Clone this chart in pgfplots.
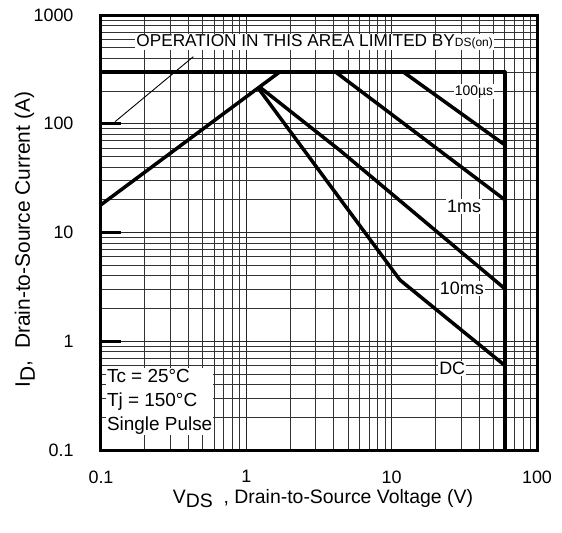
\documentclass[border=0pt]{standalone}
\usepackage{pgfplots}
\pgfplotsset{compat=1.18}
\usepackage{fontspec}
\setmainfont{Liberation Sans}
\pgfplotsset{soa/.style={black, line width=3.5bp, line join=round, mark=none}}
\begin{document}
\begin{tikzpicture}
\useasboundingbox (-101bp,-83bp) rectangle (461bp,450bp);
\begin{axis}[
  at={(0,0)}, anchor=south west,
  width=436bp, height=435bp, scale only axis,
  xmode=log, ymode=log,
  xmin=0.1, xmax=100, ymin=0.1, ymax=1000,
  xtick={0.1,1,10,100}, xticklabels={0.1,1,10,100},
  ytick={0.1,1,10,100,1000}, yticklabels={0.1,1,10,100,1000},
  minor xtick={0.2,0.3,0.4,0.5,0.6,0.7,0.8,0.9,2,3,4,5,6,7,8,9,20,30,40,50,60,70,80,90},
  minor ytick={0.2,0.3,0.4,0.5,0.6,0.7,0.8,0.9,2,3,4,5,6,7,8,9,20,30,40,50,60,70,80,90,200,300,400,500,600,700,800,900},
  grid=both,
  major grid style={black!85, line width=0.8bp},
  minor grid style={black!80, line width=0.7bp},
  axis line style={line width=3bp},
  tick align=inside,
  major tick length=20bp,
  minor tick length=0pt,
  xtick style={draw=none},
  ytick style={line width=3bp, black},
  ytick pos=left,
  tick label style={font=\fontsize{18}{20}\selectfont},
  /pgf/number format/assume math mode=true,
  yticklabel style={xshift=-24bp},
  xticklabel style={yshift=-17bp},
  xlabel={V\raisebox{-0.45ex}{DS}\ \ , Drain-to-Source Voltage (V)},
  ylabel={I\raisebox{-0.45ex}{D},\ \ Drain-to-Source Current (A)},
  xlabel style={font=\fontsize{19.5}{22}\selectfont, at={(axis description cs:0.5,-0.122)}, anchor=base, xshift=4bp},
  ylabel style={font=\fontsize{21}{24}\selectfont, at={(axis description cs:-0.163,0.484)}, anchor=base},
]
\addplot[soa] coordinates {(0.1,300) (60,300) (60,0.1)};
\addplot[soa] coordinates {(0.1,18) (1.7,300)};
\addplot[soa] coordinates {(12,300) (60,64)};
\addplot[soa] coordinates {(4.1,300) (60,20)};
\addplot[soa] coordinates {(1.25,215) (4.4,57) (60,3.05)};
\addplot[soa] coordinates {(1.21,212) (11.4,3.66) (60,0.6)};
\addplot[black, mark=none, line width=0.9bp] coordinates {(0.432,414) (0.125,104.5)};
\node[fill=white, inner sep=1bp, anchor=base, font=\fontsize{17.3}{19}\selectfont] at (axis cs:2.95,508) {OPERATION IN THIS AREA LIMITED BY{\fontsize{12}{14}\selectfont DS(on)}};
\node[fill=white, inner sep=1bp, font=\fontsize{14}{16}\selectfont] at (axis cs:36.9,197) {100µs};
\node[fill=white, inner sep=1bp, font=\fontsize{18}{20}\selectfont] at (axis cs:31.5,17.3) {1ms};
\node[fill=white, inner sep=1bp, font=\fontsize{18}{20}\selectfont] at (axis cs:30.4,3.07) {10ms};
\node[fill=white, inner sep=1bp, font=\fontsize{18}{20}\selectfont] at (axis cs:26.1,0.564) {DC};
\node[fill=white, inner sep=1bp, anchor=north west, align=left, font=\fontsize{19}{24}\selectfont] at (axis cs:0.108,0.567) {Tc = 25°C\\Tj = 150°C\\Single Pulse};
\end{axis}
\end{tikzpicture}
\end{document}
